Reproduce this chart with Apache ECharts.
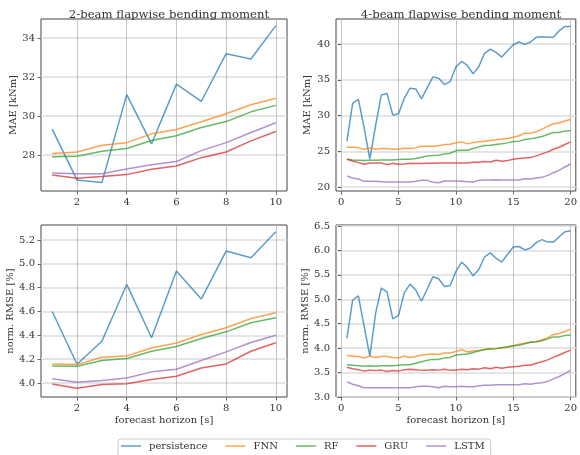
<!DOCTYPE html>
<html>
<head>
<meta charset="utf-8">
<script src="https://cdn.jsdelivr.net/npm/echarts@6/dist/echarts.min.js"></script>
<style>html,body{margin:0;padding:0;background:#fff}#c{width:580px;height:455px}</style>
</head>
<body>
<div id="c"></div>
<script>
// ---------- data ----------
const models = ['persistence', 'FNN', 'RF', 'GRU', 'LSTM'];
const colors = ['#1f77b4', '#ff7f0e', '#2ca02c', '#d62728', '#9467bd'];

const horizon2 = [1, 2, 3, 4, 5, 6, 7, 8, 9, 10];
const horizon4 = [0.5, 1, 1.5, 2, 2.5, 3, 3.5, 4, 4.5, 5, 5.5, 6, 6.5, 7, 7.5, 8, 8.5, 9, 9.5, 10,
  10.5, 11, 11.5, 12, 12.5, 13, 13.5, 14, 14.5, 15, 15.5, 16, 16.5, 17, 17.5, 18, 18.5, 19, 19.5, 20];

// 2-beam MAE [kNm]
const mae2Persistence = [29.32, 26.71, 26.58, 31.09, 28.57, 31.63, 30.74, 33.19, 32.92, 34.63];
const mae2FNN = [28.07, 28.15, 28.50, 28.63, 29.08, 29.30, 29.70, 30.11, 30.57, 30.91];
const mae2RF = [27.90, 27.93, 28.19, 28.33, 28.74, 28.98, 29.41, 29.71, 30.21, 30.54];
const mae2GRU = [26.97, 26.80, 26.89, 26.99, 27.26, 27.43, 27.86, 28.15, 28.72, 29.20];
const mae2LSTM = [27.07, 27.04, 27.04, 27.28, 27.50, 27.66, 28.22, 28.63, 29.15, 29.65];

// 4-beam MAE [kNm]
const mae4Persistence = [26.42, 31.71, 32.27, 28.3, 23.89, 28.6, 32.88, 33.07, 30.07, 30.26,
  32.41, 33.82, 33.72, 32.32, 33.90, 35.41, 35.22, 34.33, 34.75, 36.80,
  37.56, 37.00, 35.83, 36.86, 38.69, 39.30, 38.83, 38.17, 39.06, 39.90,
  40.28, 39.95, 40.28, 40.94, 41.03, 40.94, 40.94, 41.87, 42.44, 42.44];
const mae4FNN = [25.57, 25.57, 25.48, 25.29, 25.48, 25.29, 25.39, 25.39, 25.29, 25.29,
  25.43, 25.39, 25.48, 25.71, 25.71, 25.71, 25.76, 25.95, 26.00, 26.20,
  26.32, 26.04, 26.23, 26.32, 26.42, 26.51, 26.60, 26.70, 26.79, 26.98,
  27.17, 27.54, 27.54, 27.73, 28.10, 28.48, 28.85, 28.95, 29.23, 29.46];
const mae4RF = [23.89, 23.79, 23.75, 23.70, 23.75, 23.75, 23.79, 23.79, 23.79, 23.84,
  23.89, 23.89, 23.98, 24.17, 24.36, 24.40, 24.45, 24.64, 24.73, 25.10,
  25.15, 25.15, 25.39, 25.62, 25.81, 25.85, 25.95, 26.04, 26.18, 26.37,
  26.42, 26.65, 26.74, 26.89, 27.07, 27.35, 27.63, 27.63, 27.82, 27.92];
const mae4GRU = [23.89, 23.65, 23.42, 23.18, 23.37, 23.37, 23.37, 23.14, 23.33, 23.18,
  23.23, 23.33, 23.28, 23.28, 23.33, 23.33, 23.37, 23.37, 23.37, 23.37,
  23.37, 23.37, 23.47, 23.47, 23.56, 23.51, 23.75, 23.61, 23.70, 23.89,
  23.98, 24.07, 24.12, 24.36, 24.64, 24.92, 25.29, 25.57, 25.95, 26.32];
const mae4LSTM = [21.55, 21.26, 21.12, 20.80, 20.80, 20.80, 20.75, 20.70, 20.70, 20.70,
  20.70, 20.70, 20.80, 20.94, 20.94, 20.66, 20.61, 20.84, 20.84, 20.84,
  20.80, 20.75, 20.70, 20.94, 20.98, 20.98, 21.03, 20.98, 20.98, 20.98,
  20.98, 21.17, 21.12, 21.26, 21.36, 21.64, 22.01, 22.34, 22.81, 23.23];

// 2-beam norm. RMSE [%]
const rmse2Persistence = [4.600, 4.157, 4.350, 4.827, 4.379, 4.940, 4.704, 5.107, 5.051, 5.270];
const rmse2FNN = [4.160, 4.154, 4.216, 4.227, 4.294, 4.336, 4.407, 4.463, 4.541, 4.589];
const rmse2RF = [4.143, 4.140, 4.188, 4.205, 4.266, 4.306, 4.373, 4.429, 4.505, 4.547];
const rmse2GRU = [3.992, 3.955, 3.986, 3.994, 4.028, 4.056, 4.126, 4.160, 4.266, 4.337];
const rmse2LSTM = [4.036, 4.006, 4.020, 4.042, 4.093, 4.115, 4.188, 4.261, 4.339, 4.401];

// 4-beam norm. RMSE [%]
const rmse4Persistence = [4.20, 4.98, 5.07, 4.45, 3.83, 4.71, 5.23, 5.15, 4.60, 4.67,
  5.13, 5.31, 5.19, 4.96, 5.21, 5.46, 5.42, 5.26, 5.28, 5.57,
  5.76, 5.65, 5.48, 5.61, 5.87, 5.95, 5.84, 5.76, 5.92, 6.07,
  6.08, 6.01, 6.05, 6.16, 6.22, 6.17, 6.17, 6.28, 6.38, 6.40];
const rmse4FNN = [3.85, 3.84, 3.83, 3.80, 3.84, 3.81, 3.83, 3.83, 3.81, 3.80,
  3.84, 3.81, 3.83, 3.86, 3.87, 3.88, 3.87, 3.90, 3.90, 3.93,
  3.97, 3.92, 3.94, 3.95, 3.97, 3.98, 3.99, 4.01, 4.02, 4.05,
  4.08, 4.10, 4.12, 4.13, 4.17, 4.21, 4.28, 4.30, 4.34, 4.39];
const rmse4RF = [3.66, 3.65, 3.64, 3.63, 3.64, 3.63, 3.64, 3.64, 3.64, 3.65,
  3.66, 3.66, 3.69, 3.72, 3.75, 3.77, 3.77, 3.80, 3.81, 3.86,
  3.87, 3.88, 3.91, 3.94, 3.97, 3.98, 3.99, 4.01, 4.03, 4.05,
  4.06, 4.09, 4.12, 4.13, 4.15, 4.19, 4.23, 4.23, 4.26, 4.27];
const rmse4GRU = [3.61, 3.58, 3.56, 3.53, 3.55, 3.54, 3.55, 3.52, 3.54, 3.53,
  3.56, 3.57, 3.56, 3.55, 3.55, 3.56, 3.55, 3.57, 3.55, 3.55,
  3.57, 3.56, 3.58, 3.57, 3.60, 3.58, 3.61, 3.59, 3.61, 3.62,
  3.63, 3.65, 3.65, 3.69, 3.72, 3.76, 3.81, 3.86, 3.91, 3.96];
const rmse4LSTM = [3.31, 3.26, 3.23, 3.19, 3.19, 3.19, 3.19, 3.19, 3.19, 3.19,
  3.19, 3.19, 3.21, 3.22, 3.22, 3.21, 3.19, 3.22, 3.21, 3.21,
  3.22, 3.21, 3.21, 3.23, 3.24, 3.24, 3.25, 3.25, 3.25, 3.25,
  3.25, 3.27, 3.26, 3.28, 3.29, 3.32, 3.37, 3.42, 3.48, 3.55];

// tick labels
const xTicks2 = [2, 4, 6, 8, 10];
const xTicks4 = [0, 5, 10, 15, 20];
const yTicksMae2 = [28, 30, 32, 34];
const yTicksMae4 = [20, 25, 30, 35, 40];
const yTicksRmse2 = [4.0, 4.2, 4.4, 4.6, 4.8, 5.0, 5.2];
const yTicksRmse4 = [3.0, 3.5, 4.0, 4.5, 5.0, 5.5, 6.0, 6.5];

const titles = ['2-beam flapwise bending moment', '4-beam flapwise bending moment'];
const yNames = ['MAE [kNm]', 'norm. RMSE [%]'];
const xName = 'forecast horizon [s]';

// ---------- chart ----------
const FONT = 'DejaVu Serif';
const TXT = '#333333';

const panels = [
  { x: horizon2, ys: [mae2Persistence, mae2FNN, mae2RF, mae2GRU, mae2LSTM], xt: xTicks2, yt: yTicksMae2,
    xr: [0.55, 10.45], yr: [26.15, 34.97], grid: { left: 41, top: 19, width: 246, height: 172 },
    yName: yNames[0], xName: '', dec: 0, yGap: 23 },
  { x: horizon4, ys: [mae4Persistence, mae4FNN, mae4RF, mae4GRU, mae4LSTM], xt: xTicks4, yt: yTicksMae4,
    xr: [-0.45, 20.45], yr: [19.45, 43.5], grid: { left: 336, top: 19, width: 240, height: 172 },
    yName: yNames[0], xName: '', dec: 0, yGap: 24 },
  { x: horizon2, ys: [rmse2Persistence, rmse2FNN, rmse2RF, rmse2GRU, rmse2LSTM], xt: xTicks2, yt: yTicksRmse2,
    xr: [0.55, 10.45], yr: [3.882, 5.326], grid: { left: 41, top: 225, width: 246, height: 172 },
    yName: yNames[1], xName: xName, dec: 1, yGap: 22.5 },
  { x: horizon4, ys: [rmse4Persistence, rmse4FNN, rmse4RF, rmse4GRU, rmse4LSTM], xt: xTicks4, yt: yTicksRmse4,
    xr: [-0.45, 20.45], yr: [3.0, 6.52], grid: { left: 336, top: 225, width: 240, height: 172 },
    yName: yNames[1], xName: xName, dec: 1, yGap: 24 }
];

const grids = [], xAxes = [], yAxes = [], series = [];
panels.forEach((p, i) => {
  grids.push(Object.assign({ show: true, borderColor: '#444', borderWidth: 1, backgroundColor: 'transparent' }, p.grid));
  xAxes.push({
    type: 'value', gridIndex: i, min: p.xr[0], max: p.xr[1],
    name: p.xName, nameLocation: 'middle', nameGap: 18,
    nameTextStyle: { fontFamily: FONT, fontSize: 10, color: TXT },
    axisLine: { show: false },
    axisTick: { show: true, length: 3.5, lineStyle: { color: '#444', width: 0.8 }, customValues: p.xt },
    axisLabel: { fontFamily: FONT, fontSize: 10, color: TXT, margin: 6, customValues: p.xt },
    splitLine: { show: true, lineStyle: { color: '#b5b5b5', width: 0.8 } }
  });
  yAxes.push({
    type: 'value', gridIndex: i, min: p.yr[0], max: p.yr[1],
    name: p.yName, nameLocation: 'middle', nameGap: p.yGap,
    nameTextStyle: { fontFamily: FONT, fontSize: 10, color: TXT },
    axisLine: { show: false },
    axisTick: { show: true, length: 3.5, lineStyle: { color: '#444', width: 0.8 }, customValues: p.yt },
    axisLabel: { fontFamily: FONT, fontSize: 10, color: TXT, margin: 6, customValues: p.yt,
      formatter: v => Number(v).toFixed(p.dec) },
    splitLine: { show: true, lineStyle: { color: '#dcdcdc', width: 1.6 } }
  });
  p.ys.forEach((vals, k) => {
    series.push({
      type: 'line', name: models[k], xAxisIndex: i, yAxisIndex: i,
      data: p.x.map((xv, j) => [xv, vals[j]]),
      symbol: 'none', animation: false, z: 3,
      lineStyle: { color: colors[k], width: 1.5, opacity: 0.72 },
      itemStyle: { color: colors[k], opacity: 0.72 }
    });
  });
});

const chart = echarts.init(document.getElementById('c'), null, { renderer: 'canvas' });
chart.setOption({
  animation: false,
  backgroundColor: '#ffffff',
  title: [
    { text: titles[0], left: 164, top: 4, textAlign: 'center',
      textStyle: { fontFamily: FONT, fontSize: 11.7, fontWeight: 'normal', color: TXT } },
    { text: titles[1], left: 456, top: 4, textAlign: 'center',
      textStyle: { fontFamily: FONT, fontSize: 11.7, fontWeight: 'normal', color: TXT } }
  ],
  legend: {
    data: models.map(m => ({ name: m, icon: 'rect' })),
    left: 118, top: 439, orient: 'horizontal',
    itemWidth: 20, itemHeight: 1.5, itemGap: 18,
    padding: [2, 6, 14, 3],
    borderColor: '#cccccc', borderWidth: 1, borderRadius: 3,
    itemStyle: { opacity: 0.72 },
    textStyle: { fontFamily: FONT, fontSize: 10, color: TXT, padding: [0, 0, 0, 3] }
  },
  grid: grids, xAxis: xAxes, yAxis: yAxes, series: series
});
</script>
</body>
</html>
